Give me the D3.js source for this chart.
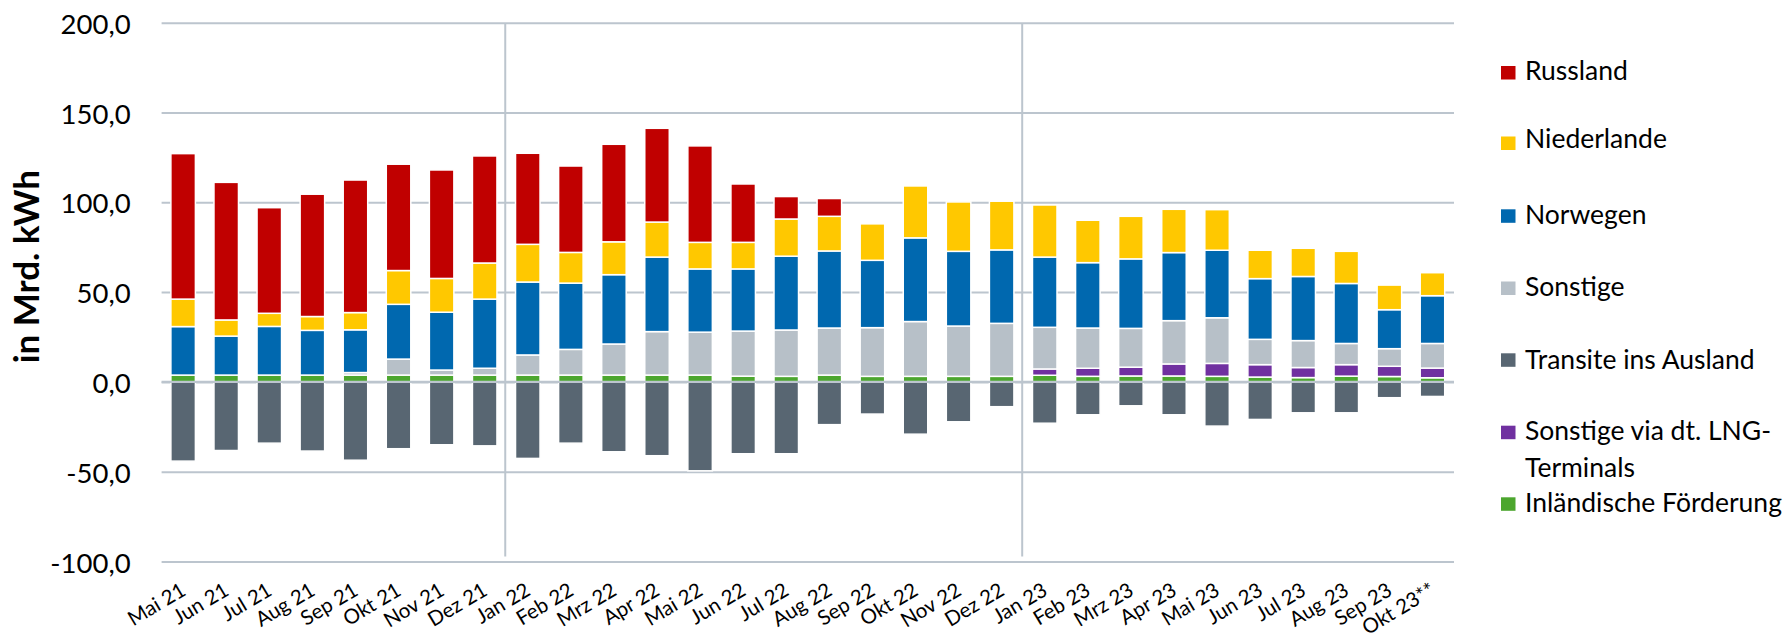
<!DOCTYPE html>
<html>
<head>
<meta charset="utf-8">
<script src="https://cdn.jsdelivr.net/npm/d3@7"></script>
<style>
  html, body { margin: 0; padding: 0; background: #fff; }
  svg { display: block; font-family: "Lato", "Open Sans", sans-serif; }
</style>
</head>
<body>
<svg id="chart" width="1791" height="634"></svg>
<script>
// ---------- DATA ----------
const months = ["Mai 21","Jun 21","Jul 21","Aug 21","Sep 21","Okt 21","Nov 21","Dez 21",
  "Jan 22","Feb 22","Mrz 22","Apr 22","Mai 22","Jun 22","Jul 22","Aug 22","Sep 22","Okt 22","Nov 22","Dez 22",
  "Jan 23","Feb 23","Mrz 23","Apr 23","Mai 23","Jun 23","Jul 23","Aug 23","Sep 23","Okt 23**"];

const inland      = [3.8,3.8,3.8,3.8,3.8,3.8,3.8,3.8, 3.8,3.8,3.8,3.8,3.8,3.2,3.1,3.8,3.1,3.1,3.1,3.1, 3.7,3.1,3.3,3.3,3.1,2.7,2.4,3.2,3.0,2.3];
const lng         = [0,0,0,0,0,0,0,0, 0,0,0,0,0,0,0,0,0,0,0,0, 3.5,4.5,4.9,6.7,7.2,6.9,5.6,6.4,5.7,5.4];
const sonstige    = [0,0,0,0,1.4,8.9,2.8,3.8, 11.2,14.3,17.3,24.2,23.9,25.1,25.8,26.2,27.1,30.5,28.0,29.5, 23.2,22.4,21.6,24.1,25.4,14.1,15.0,11.8,9.8,13.7];
const norwegen    = [27.0,21.7,27.1,24.9,23.8,30.5,32.2,38.5, 40.6,36.9,38.6,41.5,35.2,34.6,41.1,42.9,37.5,46.6,41.6,40.9, 39.1,36.4,38.7,37.9,37.6,33.8,35.7,33.4,21.7,26.6];
const niederlande = [15.3,9.0,7.3,7.7,9.6,18.8,18.8,20.1, 21.0,17.1,18.3,19.5,14.8,14.8,20.7,19.3,20.3,28.9,27.5,27.1, 29.0,23.6,23.7,24.1,22.6,15.8,15.7,17.9,13.7,12.8];
const russland    = [81.0,76.6,58.8,68.1,73.8,59.2,60.4,59.6, 50.7,48.1,54.3,52.2,53.7,32.5,12.5,9.9,0,0,0,0, 0,0,0,0,0,0,0,0,0,0];
const transite    = [-44.1,-38.2,-34.1,-38.5,-43.6,-37.2,-35.0,-35.6, -42.6,-34.1,-38.9,-41.1,-49.5,-40.0,-40.0,-23.8,-17.9,-29.1,-22.2,-13.8, -23.0,-18.3,-13.3,-18.3,-24.6,-20.9,-17.2,-17.2,-8.8,-8.1];

const seriesKeys   = ["inland","lng","sonstige","norwegen","niederlande","russland","transite"];
const seriesNames  = {
  russland: "Russland", niederlande: "Niederlande", norwegen: "Norwegen", sonstige: "Sonstige",
  transite: "Transite ins Ausland", lng: "Sonstige via dt. LNG-|Terminals", inland: "Inländische Förderung"
};
const legendOrder  = ["russland","niederlande","norwegen","sonstige","transite","lng","inland"];

const yTickValues = [-100, -50, 0, 50, 100, 150, 200];
const yTickLabels = ["-100,0", "-50,0", "0,0", "50,0", "100,0", "150,0", "200,0"];
const dividerBefore = ["Jan 22", "Jan 23"];
const yTitle = "in Mrd. kWh";

// ---------- STYLE / LAYOUT ----------
const colors = {
  russland: "#C00000", niederlande: "#FFC800", norwegen: "#0068AF", sonstige: "#B7C0C8",
  transite: "#586672", lng: "#7030A0", inland: "#4CA62E"
};
const gridColor = "#BCC5CE";
const plot = { left: 161.6, right: 1454, top: 22.7, bottom: 561.5 };
const legendLayout = { markerX: 1501, textX: 1525, markerW: 14.5, markerH: 13.5,
  baselines: [80, 148.3, 224.3, 296, 369, 440, 512.3],
  markerTops: [66, 136.5, 209.3, 281.5, 353.3, 425.7, 497.3], lineGap: 36.7 };

// ---------- BUILD ----------
const rows = months.map((m, i) => ({
  month: m, inland: inland[i], lng: lng[i], sonstige: sonstige[i], norwegen: norwegen[i],
  niederlande: niederlande[i], russland: russland[i], transite: transite[i]
}));

const svg = d3.select("#chart");

const x = d3.scaleBand().domain(months).range([plot.left, plot.right])
  .paddingInner(0.431).paddingOuter(0.2155);
const y = d3.scaleLinear().domain([-100, 200]).range([plot.bottom, plot.top]);

// y axis with gridlines
const yAxis = d3.axisLeft(y)
  .tickValues(yTickValues)
  .tickFormat(d => yTickLabels[yTickValues.indexOf(d)])
  .tickSizeInner(-(plot.right - plot.left))
  .tickSizeOuter(0)
  .tickPadding(31);

const gy = svg.append("g").attr("transform", `translate(${plot.left},0)`).call(yAxis);
gy.select(".domain").remove();
gy.selectAll(".tick line").attr("stroke", gridColor).attr("stroke-width", 2);
gy.selectAll(".tick text")
  .attr("fill", "#000").attr("font-size", 27.5).attr("font-family", "Lato")
  .attr("dy", null).attr("dominant-baseline", "central");

// vertical dividers
const gap = x.step() - x.bandwidth();
svg.append("g").selectAll("line").data(dividerBefore).join("line")
  .attr("x1", d => x(d) - gap / 2 - 1)
  .attr("x2", d => x(d) - gap / 2 - 1)
  .attr("y1", plot.top + 1)
  .attr("y2", plot.bottom - 5)
  .attr("stroke", gridColor).attr("stroke-width", 2);

// bars
const stack = d3.stack().keys(seriesKeys).offset(d3.stackOffsetDiverging);
const stacked = stack(rows);

const gBars = svg.append("g");
stacked.forEach(layer => {
  gBars.append("g").attr("fill", colors[layer.key])
    .selectAll("rect")
    .data(layer.filter(d => Math.abs(d[1] - d[0]) > 0.001))
    .join("rect")
    .attr("x", d => x(d.data.month))
    .attr("width", x.bandwidth())
    .attr("y", d => y(Math.max(d[0], d[1])))
    .attr("height", d => Math.abs(y(d[0]) - y(d[1])))
    .attr("stroke", "#fff")
    .attr("stroke-width", 1.5);
});

// zero line on top
svg.append("line")
  .attr("x1", plot.left).attr("x2", plot.right)
  .attr("y1", y(0)).attr("y2", y(0))
  .attr("stroke", gridColor).attr("stroke-width", 2.2);

// x axis labels
const xAxis = d3.axisBottom(x).tickSize(0).tickPadding(0);
const gx = svg.append("g").attr("transform", `translate(0,${plot.bottom})`).call(xAxis);
gx.select(".domain").remove();
gx.selectAll(".tick text")
  .attr("fill", "#000").attr("font-size", 20.5).attr("font-family", "Lato")
  .attr("text-anchor", "end")
  .attr("y", 0).attr("dy", null)
  .attr("transform", `translate(4,${594 - plot.bottom}) rotate(-31)`);

// y title
svg.append("text")
  .attr("transform", `translate(39,${(171.7 + 361.7) / 2}) rotate(-90)`)
  .attr("text-anchor", "middle")
  .attr("font-size", 35).attr("font-weight", "bold").attr("font-family", "Lato")
  .attr("fill", "#000")
  .text(yTitle);

// legend
const gLeg = svg.append("g");
legendOrder.forEach((key, i) => {
  gLeg.append("rect")
    .attr("x", legendLayout.markerX).attr("y", legendLayout.markerTops[i])
    .attr("width", legendLayout.markerW).attr("height", legendLayout.markerH)
    .attr("fill", colors[key]);
  const lines = seriesNames[key].split("|");
  const t = gLeg.append("text")
    .attr("x", legendLayout.textX).attr("y", legendLayout.baselines[i])
    .attr("font-size", 26.5).attr("font-family", "Lato").attr("fill", "#000");
  lines.forEach((ln, j) => {
    t.append("tspan").attr("x", legendLayout.textX)
      .attr("dy", j === 0 ? 0 : legendLayout.lineGap).text(ln);
  });
});
</script>
</body>
</html>
